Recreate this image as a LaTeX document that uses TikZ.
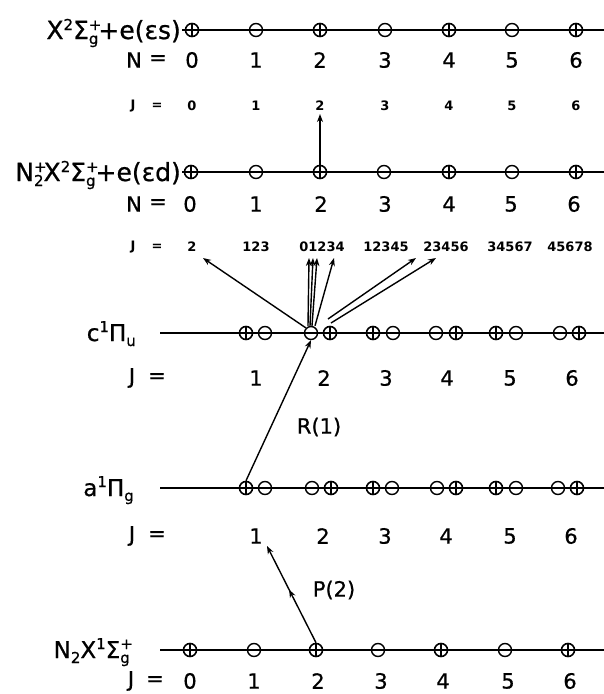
\documentclass[tikz,border=0pt]{standalone}
\usepackage{fontspec}
\setmainfont{DejaVu Sans}
\newfontfamily\fb{DejaVu Sans}[FakeBold=0.7]
\usetikzlibrary{arrows.meta,decorations.markings}
\newcommand\upr[1]{{\fontsize{15}{15}\selectfont\raisebox{9pt}{#1}}}
\newcommand\dnr[1]{{\fontsize{15}{15}\selectfont\raisebox{-5pt}{#1}}}
\newcommand\ud[2]{{\fontsize{15}{15}\selectfont\rlap{\raisebox{9pt}{#1}}\raisebox{-5pt}{#2}}}
\begin{document}
\begin{tikzpicture}[x=1pt,y=-1pt,
  lvl/.style={line width=1.7pt},
  pl/.style={circle,draw,line width=1.6pt,minimum size=13pt,inner sep=0pt,
    path picture={\draw[line width=1.7pt] (path picture bounding box.north)--(path picture bounding box.south);}},
  mi/.style={circle,draw,line width=1.4pt,minimum size=13pt,inner sep=0pt},
  lab/.style={font=\fb\fontsize{25}{25}\selectfont,inner sep=0pt},
  labs/.style={font=\fb\fontsize{23}{23}\selectfont,inner sep=0pt},
  big/.style={font=\fb\fontsize{21}{21}\selectfont,inner sep=0pt},
  sm/.style={font=\fontsize{13}{13}\selectfont\bfseries,inner sep=0pt},
  arr/.style={-{Stealth[length=8pt,width=6pt]},line width=1.4pt}]
\useasboundingbox[fill=white] (0,0) rectangle (604,694);

% ---------- row 1: X2Sigma_g^+ + e(eps s)
\node[lab,anchor=base east] (L1) at (181,39) {X\upr{2}Σ\ud{+}{g}+e(εs)};
\coordinate (s1) at (182,30); \coordinate (e1) at (604,30);
\draw[lvl] (s1) -- (e1);
\foreach \x/\t [count=\i from 0] in {192/pl,256/mi,320/pl,385/mi,449/pl,512/mi,576/pl}
  \node[\t] (a1\i) at (\x,30) {};
\node[big] (N1) at (134,60) {N}; \node[big] (E1) at (158,60) {=};
\foreach \x [count=\i from 0] in {192,256,320,385,449,512,576}
  \node[big] (n1\i) at (\x,60) {\i};
\node[sm] (J1) at (133,106) {J}; \node[sm] (F1) at (157,106) {=};
\foreach \x [count=\i from 0] in {192,256,320,385,449,512,576}
  \node[sm] (j1\i) at (\x,106) {\i};

% ---------- row 2: N2+ X2Sigma_g^+ + e(eps d)
\node[lab,anchor=base east] (L2) at (181,181) {N\ud{+}{2}X\upr{2}Σ\ud{+}{g}+e(εd)};
\coordinate (s2) at (182,172); \coordinate (e2) at (604,172);
\draw[lvl] (s2) -- (e2);
\foreach \x/\t [count=\i from 0] in {191/pl,256/mi,320/pl,384/mi,449/pl,512/mi,576/pl}
  \node[\t] (a2\i) at (\x,172) {};
\node[big] (N2) at (134,204) {N}; \node[big] (E2) at (158,204) {=};
\foreach \x [count=\i from 0] in {190,256,321,385,449,511,574}
  \node[big] (n2\i) at (\x,204) {\i};
\node[sm] (J2) at (133,247) {J}; \node[sm] (F2) at (157,247) {=};
\foreach \x/\s [count=\i from 0] in {192/2,256/123,322/01234,386/12345,446/23456,510/34567,570/45678}
  \node[sm] (j2\i) at (\x,247) {\s};

\draw[arr,shorten >=3pt] (a22.north) -- (j12.south);

% ---------- c1Pi_u
\node[labs,anchor=base east] (Lc) at (136,341) {c\upr{1}Π\dnr{u}};
\coordinate (sc) at (160,333); \coordinate (ec) at (604,333);
\draw[lvl] (sc) -- (ec);
\foreach \x/\t/\n in {246/pl/c1a,265/mi/c1b,311/mi/c2a,330/pl/c2b,373/pl/c3a,393/mi/c3b,
                      436/mi/c4a,456/pl/c4b,496/pl/c5a,516/mi/c5b,560/mi/c6a,579/pl/c6b}
  \node[\t] (\n) at (\x,333) {};
\node[big] (Jc) at (132,378) {J}; \node[big] (Ec) at (157,378) {=};
\foreach \x [count=\i from 1] in {256,324,386,447,510,572}
  \node[big] (jc\i) at (\x,378) {\i};

% arrows from c, J=2 (minus)
\coordinate (t0) at (203,258);
\coordinate (t1) at (309,258); \coordinate (t2) at (313,258);
\coordinate (t3) at (317,258); \coordinate (t4) at (334,258);
\coordinate (t5) at (416,258); \coordinate (t6) at (436,258);
\draw[arr] (c2a.north west) -- (t0);
\draw[arr] ([xshift=-3pt]c2a.north) -- (t1);
\draw[arr] ([xshift=-1pt]c2a.north) -- (t2);
\draw[arr] ([xshift=1pt]c2a.north) -- (t3);
\draw[arr] ([xshift=4pt]c2a.north) -- (t4);
\coordinate (u5) at (328,319); \coordinate (u6) at (331,323);
\draw[arr] (u5) -- (t5);
\draw[arr] (u6) -- (t6);

% ---------- a1Pi_g
\node[labs,anchor=base east] (La) at (134,496) {a\upr{1}Π\dnr{g}};
\coordinate (sa) at (160,488); \coordinate (ea) at (604,488);
\draw[lvl] (sa) -- (ea);
\foreach \x/\t/\n in {246/pl/g1a,265/mi/g1b,312/mi/g2a,331/pl/g2b,373/pl/g3a,392/mi/g3b,
                      437/mi/g4a,456/pl/g4b,496/pl/g5a,516/mi/g5b,558/mi/g6a,577/pl/g6b}
  \node[\t] (\n) at (\x,488) {};
\node[big] (Ja) at (132,536) {J}; \node[big] (Ea) at (157,536) {=};
\foreach \x [count=\i from 1] in {256,323,385,446,510,571}
  \node[big] (ja\i) at (\x,536) {\i};

\draw[arr] (g1a.north) -- (c2a.south);
\node[big] (R1) at (319,427) {R(1)};

% ---------- N2 X1Sigma_g^+
\node[labs,anchor=base east] (Lx) at (130,658) {N\dnr{2}X\upr{1}Σ\ud{+}{g}};
\coordinate (sx) at (160,650); \coordinate (ex) at (604,650);
\draw[lvl] (sx) -- (ex);
\foreach \x/\t [count=\i from 0] in {190/pl,254/mi,316/pl,378/mi,441/pl,505/mi,568/pl}
  \node[\t] (x\i) at (\x,650) {};
\node[big] (Jx) at (131,681) {J}; \node[big] (Ex) at (155,681) {=};
\foreach \x [count=\i from 0] in {190,254,318,381,443,508,570}
  \node[big] (jx\i) at (\x,681) {\i};

\coordinate (tp) at (267,546);
\draw[arr,postaction={decorate},decoration={markings,
   mark=at position 0.55 with {\arrow{Stealth[length=8pt,width=6pt]}}}] (x2.north) -- (tp);
\node[big] (P2) at (334,590) {P(2)};
\end{tikzpicture}
\end{document}
